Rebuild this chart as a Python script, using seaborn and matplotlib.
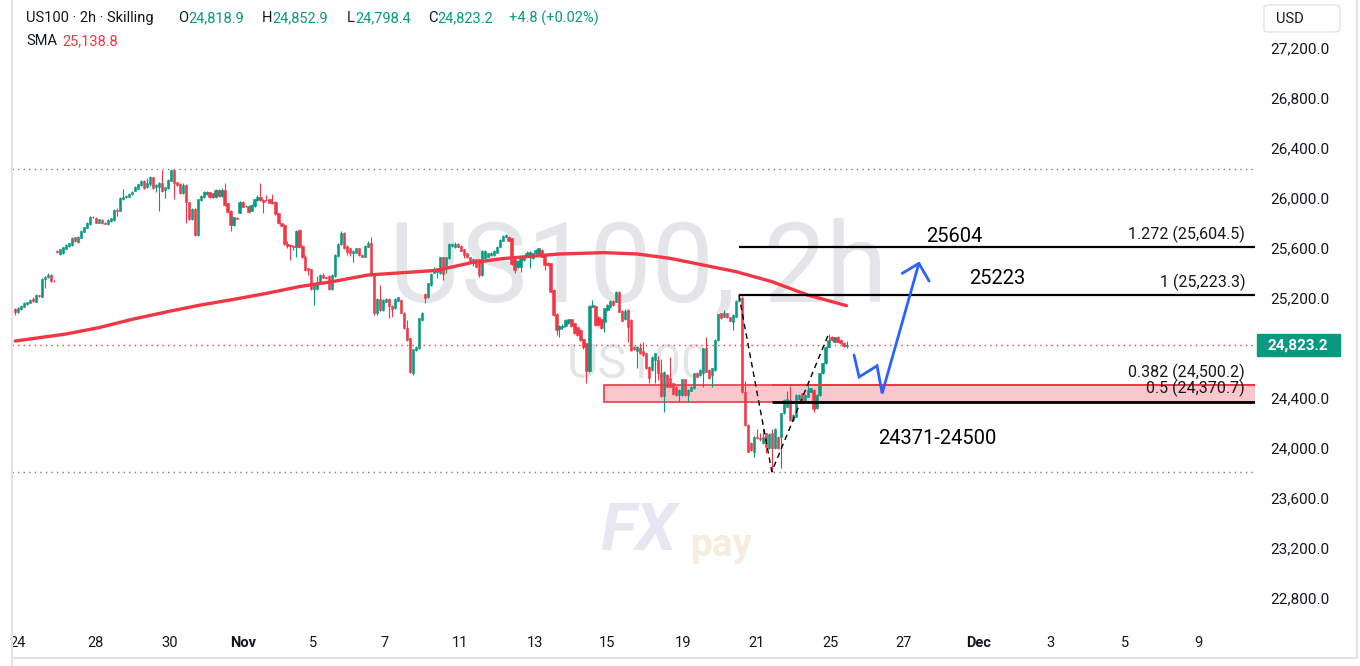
import numpy as np
import pandas as pd
import matplotlib
matplotlib.use("Agg")
import matplotlib.pyplot as plt
import seaborn as sns
from matplotlib.patches import Rectangle, FancyBboxPatch
from matplotlib.lines import Line2D

# ---- 2h candles, Oct 24 -> Nov 25 ----
opens = [
    25110, 25085, 25110, 25130, 25150, 25163, 25190, 25170, 25224, 25211,
    25349, 25365, 25384, 25340, 25575, 25552, 25560, 25595, 25616, 25624,
    25685, 25650, 25683, 25730, 25763, 25792, 25851, 25840, 25803, 25824,
    25800, 25792, 25818, 25824, 25904, 25898, 25990, 26008, 26011, 26029,
    26059, 26075, 26104, 26139, 26085, 26112, 26165, 26085, 26091, 26117,
    26064, 26077, 26139, 26224, 26125, 26112, 26043, 26104, 25965, 25829,
    25912, 25704, 25984, 26005, 26032, 26045, 26037, 26005, 26064, 26016,
    26064, 25957, 25899, 25784, 25840, 25883, 25968, 25935, 25937, 25899,
    25937, 25984, 26005, 25984, 25987, 25989, 25965, 25968, 25877, 25797,
    25784, 25632, 25624, 25616, 25605, 25744, 25616, 25525, 25437, 25429,
    25269, 25269, 25331, 25384, 25365, 25376, 25269, 25376, 25536, 25632,
    25723, 25616, 25597, 25557, 25563, 25597, 25544, 25531, 25611, 25637,
    25384,
    25083, 25189, 25104, 25170, 25195, 25136, 25117, 25179, 25184, 25083,
    24957, 24877, 24603, 24784, 24797, 25024, 25232, 25205, 25304, 25403,
    25411, 25397, 25525, 25456, 25517, 25616, 25605, 25632, 25616, 25589,
    25557, 25525, 25490, 25509, 25509, 25384, 25517, 25531, 25544, 25544,
    25563, 25611, 25659, 25691, 25691, 25677, 25509, 25445, 25451, 25504,
    25536, 25531, 25517, 25557, 25552, 25584, 25544, 25483, 25477, 25264,
    25072, 24949, 24966, 24976, 24997, 25029, 24997, 24965, 24944, 24869,
    24837, 24620, 25131, 25136, 25051, 25030, 25011, 25104, 25125, 25179,
    25170, 25251, 25099, 25029, 25104, 25024, 24811, 24779, 24797, 24779,
    24757, 24651, 24624, 24704, 24704, 24603, 24416, 24584, 24557, 24517,
    24491, 24424, 24424, 24549, 24424, 24459, 24477, 24603, 24584, 24597,
    24797, 24624, 24584, 24624, 24864, 25077, 25051, 25077, 25045, 25011,
    25051, 25179,
    25200, 24451, 24184, 24040, 23971, 24085, 24080, 24037, 24117, 23997,
    24117, 23997, 24091, 24091, 24277, 24331, 24384, 24224, 24251, 24389,
    24437, 24384, 24411, 24451, 24464, 24317, 24424, 24597, 24677, 24811,
    24891, 24851, 24885, 24864, 24843, 24818.9,
]
highs = [
    25120, 25125, 25145, 25165, 25170, 25190, 25205, 25230, 25228, 25360,
    25380, 25398, 25392, 25346, 25585, 25595, 25610, 25630, 25642, 25685,
    25690, 25695, 25745, 25770, 25808, 25858, 25860, 25845, 25835, 25830,
    25808, 25830, 25842, 25910, 25917, 26005, 26072, 26022, 26037, 26056,
    26096, 26115, 26144, 26145, 26157, 26175, 26170, 26110, 26130, 26224,
    26090, 26150, 26235, 26230, 26130, 26118, 26123, 26110, 25972, 25918,
    25918, 25995, 26022, 26056, 26056, 26050, 26042, 26070, 26070, 26077,
    26117, 25962, 25905, 25850, 25848, 25975, 25975, 25942, 25942, 25950,
    25995, 26024, 26117, 25990, 26027, 25995, 26032, 25973, 25883, 25803,
    25790, 25656, 25630, 25622, 25742, 25750, 25622, 25544, 25443, 25435,
    25310, 25376, 25390, 25403, 25370, 25382, 25390, 25550, 25638, 25736,
    25730, 25622, 25603, 25585, 25603, 25603, 25550, 25622, 25659, 25690,
    25395,
    25200, 25304, 25190, 25200, 25200, 25142, 25200, 25211, 25190, 25090,
    25024, 24884, 24795, 24816, 25043, 25089, 25238, 25323, 25397, 25451,
    25443, 25531, 25531, 25531, 25638, 25638, 25651, 25638, 25622, 25595,
    25563, 25531, 25523, 25515, 25515, 25585, 25585, 25563, 25568, 25585,
    25616, 25670, 25701, 25712, 25696, 25683, 25515, 25504, 25531, 25541,
    25579, 25577, 25563, 25589, 25603, 25589, 25549, 25488, 25483, 25269,
    25077, 24981, 24989, 25030, 25035, 25035, 25003, 24971, 24950, 24875,
    24843, 25141, 25184, 25141, 25056, 25035, 25123, 25149, 25184, 25184,
    25256, 25256, 25104, 25109, 25109, 25030, 24816, 24816, 24837, 24851,
    24763, 24656, 24736, 24763, 24736, 24709, 24616, 24589, 24725, 24523,
    24496, 24469, 24555, 24555, 24469, 24496, 24603, 24608, 24629, 24803,
    24891, 24629, 24643, 24869, 25075, 25083, 25104, 25083, 25051, 25069,
    25184, 25224,
    25215, 24540, 24190, 24050, 24096, 24149, 24123, 24149, 24123, 24117,
    24150, 24160, 24096, 24283, 24389, 24456, 24496, 24269, 24429, 24429,
    24443, 24429, 24504, 24483, 24469, 24429, 24603, 24683, 24816, 24912,
    24896, 24891, 24896, 24869, 24848, 24852.9,
]
lows = [
    25065, 25080, 25105, 25125, 25145, 25160, 25170, 25165, 25212, 25205,
    25283, 25360, 25330, 25330, 25560, 25548, 25555, 25590, 25612, 25620,
    25648, 25642, 25680, 25725, 25760, 25788, 25838, 25798, 25798, 25792,
    25790, 25786, 25812, 25820, 25856, 25893, 25985, 26000, 26006, 26024,
    26054, 26070, 26099, 26072, 26080, 26100, 26070, 26050, 25899, 26050,
    25997, 26072, 26133, 25989, 26098, 26036, 26036, 25797, 25824, 25824,
    25698, 25698, 25978, 26000, 26028, 26000, 26000, 26000, 26011, 26011,
    25940, 25885, 25739, 25778, 25830, 25878, 25925, 25930, 25877, 25893,
    25931, 25978, 25978, 25877, 25975, 25957, 25955, 25866, 25792, 25773,
    25624, 25603, 25504, 25584, 25525, 25598, 25518, 25418, 25384, 25262,
    25144, 25264, 25326, 25357, 25355, 25262, 25262, 25370, 25530, 25626,
    25592, 25544, 25536, 25491, 25557, 25538, 25525, 25525, 25605, 25380,
    25065,
    25064, 25098, 25098, 25165, 25037, 25051, 25111, 25173, 25077, 24951,
    24858, 24597, 24584, 24779, 24792, 25018, 25157, 25200, 25298, 25397,
    25357, 25392, 25344, 25397, 25512, 25611, 25600, 25605, 25573, 25517,
    25520, 25477, 25458, 25445, 25371, 25378, 25512, 25525, 25538, 25538,
    25557, 25605, 25654, 25686, 25654, 25467, 25403, 25440, 25411, 25499,
    25531, 25437, 25512, 25552, 25547, 25525, 25424, 25459, 25245, 25058,
    24904, 24885, 24952, 24971, 24992, 24971, 24911, 24898, 24858, 24792,
    24517, 24610, 25125, 24979, 24979, 24952, 24931, 25099, 25120, 25139,
    25165, 25085, 25013, 25024, 24851, 24779, 24784, 24637, 24751, 24738,
    24632, 24517, 24619, 24523, 24544, 24411, 24291, 24485, 24485, 24427,
    24419, 24371, 24419, 24419, 24371, 24453, 24472, 24565, 24579, 24491,
    24605, 24552, 24491, 24619, 24859, 25032, 25045, 25040, 25013, 24944,
    25045, 25165,
    24440, 24178, 23965, 23975, 23931, 24070, 24060, 24031, 23957, 23990,
    23811, 23990, 23991, 23837, 24272, 24325, 24219, 24219, 24245, 24384,
    24365, 24379, 24405, 24445, 24291, 24312, 24419, 24592, 24672, 24805,
    24859, 24845, 24845, 24831, 24810, 24798.4,
]
closes = [
    25085, 25117, 25138, 25157, 25165, 25184, 25175, 25224, 25216, 25352,
    25371, 25384, 25336, 25338, 25570, 25590, 25605, 25624, 25637, 25677,
    25653, 25690, 25739, 25765, 25803, 25851, 25845, 25803, 25830, 25797,
    25795, 25824, 25837, 25904, 25898, 25997, 26011, 26016, 26032, 26051,
    26091, 26109, 26139, 26077, 26123, 26165, 26077, 26104, 26123, 26059,
    26085, 26144, 26224, 26117, 26104, 26043, 26104, 25965, 25829, 25912,
    25704, 25989, 26016, 26051, 26051, 26005, 26005, 26064, 26016, 26064,
    25944, 25891, 25784, 25845, 25835, 25968, 25931, 25937, 25891, 25944,
    25989, 26005, 25984, 25971, 25981, 25962, 25960, 25872, 25797, 25779,
    25629, 25616, 25616, 25610, 25736, 25605, 25525, 25424, 25424, 25269,
    25304, 25331, 25384, 25363, 25360, 25269, 25384, 25544, 25632, 25723,
    25597, 25571, 25563, 25579, 25597, 25544, 25531, 25616, 25637, 25384,
    25080,
    25189, 25104, 25184, 25195, 25136, 25109, 25195, 25205, 25083, 24957,
    24864, 24611, 24789, 24811, 25037, 25083, 25197, 25317, 25392, 25424,
    25437, 25525, 25392, 25525, 25632, 25632, 25632, 25611, 25579, 25544,
    25525, 25483, 25509, 25451, 25384, 25579, 25579, 25557, 25563, 25579,
    25611, 25664, 25696, 25704, 25659, 25472, 25424, 25499, 25525, 25536,
    25563, 25571, 25557, 25584, 25597, 25531, 25464, 25464, 25251, 25064,
    24944, 24976, 24976, 25024, 25029, 24976, 24917, 24904, 24864, 24811,
    24620, 25136, 25141, 24984, 24984, 24957, 25117, 25144, 25179, 25144,
    25251, 25091, 25019, 25099, 24971, 24784, 24789, 24811, 24757, 24744,
    24637, 24557, 24731, 24757, 24597, 24416, 24611, 24491, 24491, 24432,
    24424, 24464, 24549, 24424, 24464, 24491, 24597, 24571, 24624, 24797,
    24611, 24557, 24637, 24864, 25069, 25037, 25077, 25045, 25019, 25064,
    25179, 25200,
    24451, 24184, 23971, 23985, 24091, 24078, 24075, 24091, 24011, 24112,
    23997, 24155, 23997, 24277, 24384, 24389, 24224, 24264, 24424, 24424,
    24371, 24424, 24464, 24477, 24309, 24424, 24597, 24677, 24811, 24864,
    24864, 24885, 24851, 24837, 24816, 24823.2,
]

# SMA read at a handful of bars
sma_bar = [0, 17, 28, 39, 51, 62, 73, 84, 95, 106, 118, 141, 152, 163, 175,
           182, 197, 208, 219, 230, 241, 253, 265, 278]
sma_val = [24856, 24912, 24963, 25029, 25091, 25144, 25189, 25237, 25291,
           25331, 25384, 25421, 25480, 25515, 25539, 25552, 25563, 25552,
           25517, 25464, 25411, 25331, 25224, 25138.8]

# fib levels
fib_ratio = ["1.272", "1", "0.382", "0.5"]
fib_price = [25604.5, 25223.3, 24500.2, 24370.7]
zone_start = 197

# projected path (blue)
path_bar = [280.5, 282.2, 288.2, 289.9, 302.2]
path_price = [24744, 24568, 24658, 24437, 25477]
head_bar = [296.6, 302.2, 305.6]
head_price = [25397, 25477, 25336]

# time axis
tick_pos = [0.9, 26.7, 51.7, 76.2, 99.6, 123.6, 148.7, 173.8, 197.9, 223.3,
            248.0, 272.5, 296.9, 322.0, 346.1, 371.1, 395.6]
tick_lab = ["24", "28", "30", "Nov", "5", "7", "11", "13", "15", "19", "21",
            "25", "27", "Dec", "3", "5", "9"]
price_ticks = list(range(22800, 27201, 400))

UP = "#089981"
DOWN = "#f23645"
TXT = "#131722"

sns.set_style("white")
plt.rcParams["font.family"] = ["Roboto", "DejaVu Sans"]

df = pd.DataFrame({"open": opens, "high": highs, "low": lows, "close": closes})
df["bar"] = np.arange(len(df))
df["color"] = np.where(df["close"] >= df["open"], UP, DOWN)

W, H = 1360, 666
fig = plt.figure(figsize=(W / 100, H / 100), dpi=100)
fig.patch.set_facecolor("white")
ax = fig.add_axes([12 / W, 1 - 622 / H, (1255 - 12) / W, 622 / H])
ax.set_facecolor("white")
for s in ax.spines.values():
    s.set_visible(False)
ax.set_xlim(-1.1, 414.6)
ax.set_ylim(22608, 27584)

# watermark
ax.text(0.5036, 0.565, "US100, 2h", transform=ax.transAxes, fontsize=80,
        color="#e4e5e9", ha="center", va="center", zorder=0)
ax.text(0.5036, 0.413, "US100", transform=ax.transAxes, fontsize=35,
        color="#e4e5e9", ha="center", va="center", zorder=0)
fig.text(600 / W, 1 - 532 / H, "FX", fontsize=48, fontweight="bold",
         style="italic", color="#e7e7f3", ha="left", va="center", zorder=0)
fig.text(691 / W, 1 - 545 / H, "pay", fontsize=28, fontweight="bold",
         color="#f7eddc", ha="left", va="center", zorder=0)

# high / low / last price lines
ax.axhline(df["high"].max(), color="#787b86", ls=(0, (1, 3)), lw=1, zorder=1)
ax.axhline(df["low"].min(), color="#787b86", ls=(0, (1, 3)), lw=1, zorder=1)
ax.axhline(closes[-1], color=DOWN, ls=(0, (1, 3)), lw=1, zorder=1)

# support zone
ax.add_patch(Rectangle((zone_start, fib_price[3]), 420 - zone_start,
                       fib_price[2] - fib_price[3], facecolor="#f9c8cc",
                       edgecolor=DOWN, lw=1.2, zorder=1))

# candles
ax.vlines(df["bar"], df["low"], df["high"], colors=df["color"], lw=0.8, zorder=3)
ax.bar(df["bar"], (df["close"] - df["open"]).abs(),
       bottom=df[["open", "close"]].min(axis=1), width=0.78,
       color=df["color"], edgecolor=df["color"], lw=0.4, zorder=4)

# SMA
sns.lineplot(x=sma_bar, y=sma_val, ax=ax, color=DOWN, lw=2.4, zorder=5,
             estimator=None, sort=False)

# fib levels
i_top = 230 + int(np.argmax(highs[230:]))
i_low = int(np.argmin(lows))
i_end = i_low + int(np.argmax(highs[i_low:]))
ax.hlines(fib_price[:2], i_top, 420, colors="black", lw=1.6, zorder=6)
ax.hlines(fib_price[3], i_low, 420, colors="black", lw=2.0, zorder=6)
ax.hlines(fib_price[2], i_low, 420, colors=DOWN, lw=1.4, zorder=6)
for r, p in zip(fib_ratio, fib_price):
    ax.annotate(f"{r} ({p:,.1f})", xy=(411.3, p), xytext=(0, 3),
                textcoords="offset points", ha="right", va="bottom",
                fontsize=11.5, color=TXT, zorder=7)

# zig-zag of the swing
ax.plot([i_top, i_low, i_end],
        [fib_price[1], lows[i_low], highs[i_end]],
        color="black", ls=(0, (4, 3)), lw=1, zorder=6)

# big labels
ax.text(314.2, 25688, f"{fib_price[0]:.0f}", fontsize=14.5, color="black",
        ha="center", va="center", zorder=7)
ax.text(328.5, 25352, f"{fib_price[1]:.0f}", fontsize=14.5, color="black",
        ha="center", va="center", zorder=7)
ax.text(308.4, 24080, f"{fib_price[3]:.0f}-{fib_price[2]:.0f}", fontsize=14.5,
        color="black", ha="center", va="center", zorder=7)

# projected path
ax.plot(path_bar, path_price, color="#2962ff", lw=2, zorder=7,
        solid_joinstyle="miter")
ax.plot(head_bar, head_price, color="#2962ff", lw=2, zorder=7)

# axes ticks (the label under the last-price tag is hidden, as on the chart)
shown = [v for v in price_ticks if abs(v - closes[-1]) > 150]
ax.yaxis.tick_right()
ax.set_yticks(shown)
ax.set_yticklabels([f"{v:,.1f}" for v in shown])
ax.tick_params(axis="y", length=0, pad=11, labelsize=11, labelcolor=TXT)
ax.set_xticks(tick_pos)
ax.set_xticklabels(tick_lab)
ax.tick_params(axis="x", length=0, pad=10, labelsize=10.5, labelcolor=TXT)
for t in ax.get_xticklabels():
    if t.get_text() in ("Nov", "Dec"):
        t.set_fontweight("bold")
ax.grid(False)

# last price tag
ax.add_patch(Rectangle((1.0016, closes[-1] - 88), 0.0668, 176,
                       transform=ax.get_yaxis_transform(), facecolor=UP,
                       edgecolor=UP, clip_on=False, zorder=8))
ax.text(1.0346, closes[-1], f"{closes[-1]:,.1f}", transform=ax.get_yaxis_transform(),
        ha="center", va="center", fontsize=11, fontweight="bold", color="white",
        zorder=9, clip_on=False)

# USD box
fig.add_artist(FancyBboxPatch((1264 / W, 1 - 32 / H), 76 / W, 27 / H,
                              boxstyle="round,pad=0,rounding_size=0.004",
                              transform=fig.transFigure, facecolor="white",
                              edgecolor="#e0e3eb", lw=1))
fig.text(1276 / W, 1 - 19 / H, "USD", fontsize=10.5, color=TXT, va="center")

# frame
fig.add_artist(Line2D([12 / W, 12 / W], [0, 1], color="#e0e3eb", lw=1.5))
fig.add_artist(Line2D([12 / W, 1357 / W], [1 - 658 / H] * 2, color="#e0e3eb", lw=1.5))
fig.add_artist(Line2D([1357 / W, 1357 / W], [1 - 658 / H, 1], color="#e0e3eb", lw=1.5))

# legend header
renderer = fig.canvas.get_renderer()


def chain(x_px, y_px, parts, size=10.5):
    for s, c in parts:
        t = fig.text(x_px / W, 1 - y_px / H, s, color=c, fontsize=size,
                     ha="left", va="center")
        x_px += t.get_window_extent(renderer).width


chain(26, 18, [("US100 · 2h · Skilling", TXT)])
chain(178, 18, [("O", TXT), (f"{opens[-1]:,.1f}", UP)])
chain(262, 18, [("H", TXT), (f"{highs[-1]:,.1f}", UP)])
chain(347, 18, [("L", TXT), (f"{lows[-1]:,.1f}", UP)])
chain(428, 18, [("C", TXT), (f"{closes[-1]:,.1f}", UP)])
chain(509, 18, [("+4.8 (+0.02%)", UP)])
chain(26, 41, [("SMA", TXT)])
chain(62, 41, [(f"{sma_val[-1]:,.1f}", DOWN)])

fig.savefig("out.png", dpi=100, facecolor="white")
